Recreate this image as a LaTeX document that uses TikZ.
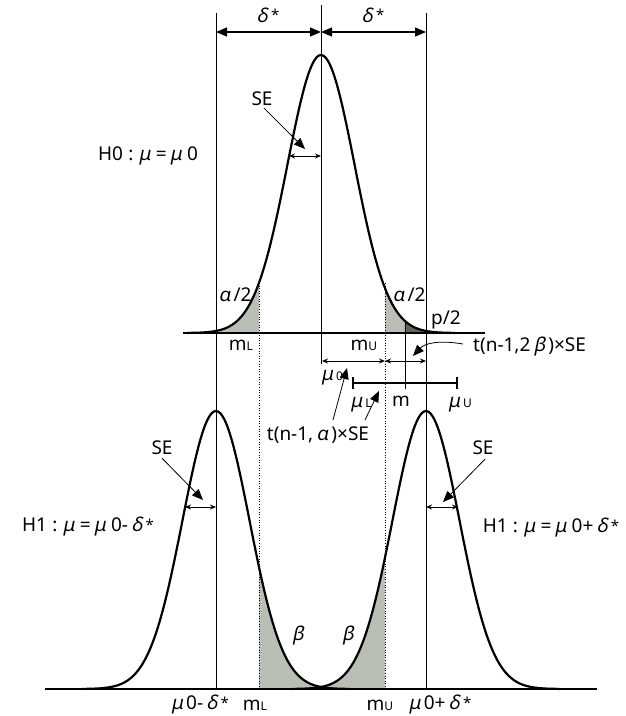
\documentclass[tikz,border=0pt]{standalone}
\usepackage{fontspec}
\setmainfont{Noto Sans}
\newfontfamily\grkfont[FakeSlant=0.2]{Noto Sans}
\usetikzlibrary{arrows.meta}
\definecolor{shadelight}{RGB}{186,191,181}
\definecolor{shadedark}{RGB}{95,100,95}
\newcommand\gk[1]{{\grkfont #1}}
\newcommand\sm[1]{{\fontsize{12}{12}\selectfont #1}}
\newcommand\str{{\fontsize{15}{15}\selectfont\raisebox{1.5pt}{*}}}
\begin{document}
\begin{tikzpicture}[x=1pt,y=-1pt,
  font=\fontsize{19}{22}\selectfont,
  curve/.style={line width=2.2pt, line join=round},
  vline/.style={line width=0.9pt},
  baseln/.style={line width=1.1pt},
  dotln/.style={dotted, line width=0.6pt},
  bigarr/.style={line width=1.2pt, {Triangle[length=11pt,width=9pt]}-{Triangle[length=11pt,width=9pt]}},
  smallarr/.style={line width=0.9pt, {Stealth[length=6pt,width=5pt]}-{Stealth[length=6pt,width=5pt]}},
  pointer/.style={line width=0.8pt, -{Triangle[length=11pt,width=9pt]}},
  lbl/.style={inner sep=0pt}
]
\useasboundingbox (0,0) rectangle (625,716);
\fill[white] (0,0) rectangle (625,716);

% ---------- shading ----------
\fill[shadelight] plot[domain=-4:-1.851,samples=50] ({321+33.5*\x},{333-278*exp(-0.5*\x*\x)}) -- (259,333) -- cycle;
\fill[shadelight] plot[domain=1.910:2.507,samples=30] ({321+33.5*\x},{333-278*exp(-0.5*\x*\x)}) -- (405,333) -- (385,333) -- cycle;
\fill[shadedark] plot[domain=2.507:4,samples=40] ({321+33.5*\x},{333-278*exp(-0.5*\x*\x)}) -- (455,333) -- (405,333) -- cycle;
\fill[shadelight] plot[domain=1.284:3.134,samples=50] ({216+33.5*\x},{689-278*exp(-0.5*\x*\x)})
   -- plot[domain=-3.134:-1.224,samples=50] ({426+33.5*\x},{689-278*exp(-0.5*\x*\x)}) -- (385,689) -- (259,689) -- cycle;

% ---------- coordinates ----------
\coordinate (Ltop) at (216,13);   \coordinate (Lbot) at (216,689);
\coordinate (Ctop) at (321,5);    \coordinate (Cbot) at (321,364);
\coordinate (Rtop) at (426,13);   \coordinate (Rbot) at (426,689);
\coordinate (mLtop) at (259,283); \coordinate (mLbot) at (259,689);
\coordinate (mUtop) at (385,283); \coordinate (mUbot) at (385,689);
\coordinate (mtop) at (405,321);  \coordinate (mbot) at (405,389);
\coordinate (b0a) at (183,333);   \coordinate (b0b) at (485,333);
\coordinate (b1a) at (45,689);    \coordinate (b1b) at (597,689);

% ---------- lines ----------
\draw[vline] (Ltop) -- (Lbot);
\draw[vline] (Ctop) -- (Cbot);
\draw[vline] (Rtop) -- (Rbot);
\draw[dotln] (mLtop) -- (mLbot);
\draw[dotln] (mUtop) -- (mUbot);
\draw[vline] (mtop) -- (mbot);
\draw[baseln] (b0a) -- (b0b);
\draw[baseln] (b1a) -- (b1b);

% ---------- curves ----------
\draw[curve] plot[domain=-4:4,samples=121,smooth] ({321+33.5*\x},{333-278*exp(-0.5*\x*\x)});
\draw[curve] plot[domain=-4:4,samples=121,smooth] ({216+33.5*\x},{689-278*exp(-0.5*\x*\x)});
\draw[curve] plot[domain=-4:4,samples=121,smooth] ({426+33.5*\x},{689-278*exp(-0.5*\x*\x)});

% ---------- delta* arrows ----------
\coordinate (dA) at (216,32); \coordinate (dB) at (321,32); \coordinate (dC) at (426,32);
\draw[bigarr] (dA) -- (dB);
\draw[bigarr] (dB) -- (dC);
\node[lbl] (d1) at (268,15) {\gk{δ}\,\str};
\node[lbl] (d2) at (373,15) {\gk{δ}\,\str};

% ---------- H0 ----------
\node[lbl] (h0) at (148,156) {H0\;:\;\gk{μ}\;=\,\gk{μ}\;0};
\node[lbl] (se0) at (262,99) {SE};
\coordinate (se0a) at (289,156); \coordinate (se0b) at (321,156);
\draw[smallarr] (se0a) -- (se0b);
\coordinate (se0tip) at (305,149);
\draw[pointer] (se0.south) ++(2,2) -- (se0tip);

\node[lbl] (al1) at (235,295) {\gk{α}\,/2};
\node[lbl] (al2) at (409,295) {\gk{α}\,/2};
\node[lbl] (p2) at (446,320) {p/2};
\node[lbl] (mL0) at (241,345) {m\sm{L}};
\node[lbl] (mU0) at (364,345) {m\sm{U}};

% ---------- t arrows ----------
\coordinate (tA) at (322,361); \coordinate (tB) at (385,361); \coordinate (tC) at (426,361);
\draw[smallarr] (tA) -- (tB);
\draw[smallarr] (tB) -- (tC);

\node[lbl] (mu0) at (332,378) {\gk{μ}\,\sm{0}};
\node[lbl] (muL) at (361,405) {\gk{μ}\,\sm{L}};
\node[lbl] (mm) at (401,401) {m};
\node[lbl] (muU) at (460,405) {\gk{μ}\,\sm{U}};

% CI bar
\coordinate (ciL) at (353,383); \coordinate (ciR) at (457,383);
\draw[line width=2.6pt] (ciL) -- (ciR);
\draw[line width=2.6pt] ([yshift=-6]ciL) -- ([yshift=6]ciL);
\draw[line width=2.6pt] ([yshift=-6]ciR) -- ([yshift=6]ciR);

\node[lbl,anchor=west] (t2b) at (473,347) {t(n-1,2\,\gk{β}\,)×SE};
\coordinate (t2btip) at (413,356);
\draw[pointer] (t2b.west) ++(-10,-3) .. controls (440,340) and (425,343) .. (t2btip);

\node[lbl] (ta) at (318,435) {t(n-1,\,\gk{α}\,)×SE};
\coordinate (taTip1) at (347,368); \coordinate (taTip2) at (379,391);
\draw[pointer] (333,420) -- (taTip1);
\draw[pointer] (365,420) -- (taTip2);

% ---------- H1 left ----------
\node[lbl] (se1) at (162,448) {SE};
\coordinate (se1a) at (185,507); \coordinate (se1b) at (216,507);
\draw[smallarr] (se1a) -- (se1b);
\coordinate (se1tip) at (203,500);
\draw[pointer] (se1.south) ++(0,3) -- (se1tip);
\node[lbl] (h1l) at (88,527) {H1\;:\;\gk{μ}\;=\,\gk{μ}\;0-\,\gk{δ}\,\str};

% ---------- H1 right ----------
\node[lbl] (se2) at (483,448) {SE};
\coordinate (se2a) at (426,507); \coordinate (se2b) at (458,507);
\draw[smallarr] (se2a) -- (se2b);
\coordinate (se2tip) at (443,502);
\draw[pointer] (se2.south) ++(2,4) -- (se2tip);
\node[lbl] (h1r) at (551,528) {H1\;:\;\gk{μ}\;=\,\gk{μ}\;0+\,\gk{δ}\,\str};

% ---------- beta & bottom labels ----------
\node[lbl] (be1) at (298,636) {\gk{β}};
\node[lbl] (be2) at (348,636) {\gk{β}};
\node[lbl] (bl1) at (200,705) {\gk{μ}\,0-\,\gk{δ}\,\str};
\node[lbl] (bl2) at (255,705) {m\sm{L}};
\node[lbl] (bl3) at (380,705) {m\sm{U}};
\node[lbl] (bl4) at (440,705) {\gk{μ}\,0+\,\gk{δ}\,\str};
\end{tikzpicture}
\end{document}
